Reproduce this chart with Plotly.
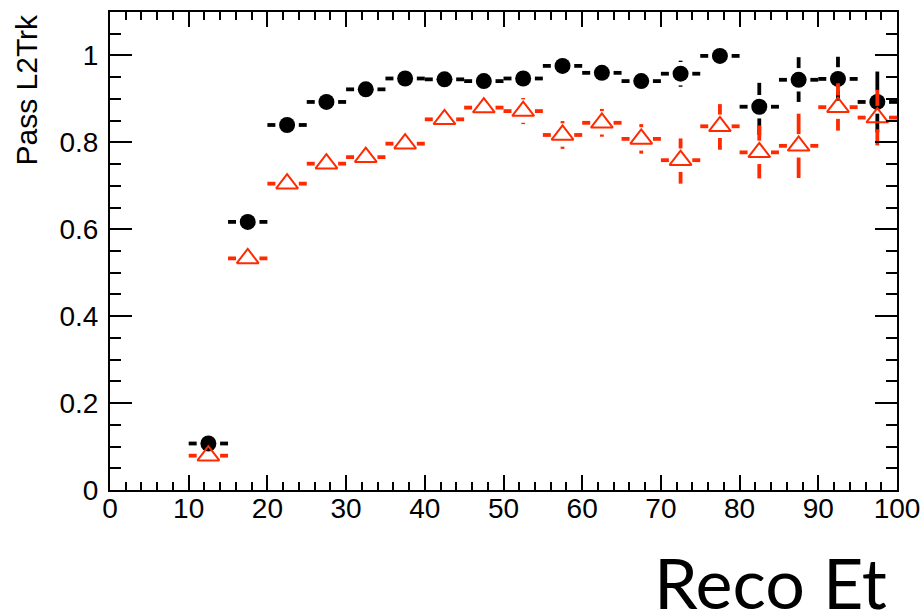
import plotly.graph_objects as go

# ---- data ----
et_centers = [12.5, 17.5, 22.5, 27.5, 32.5, 37.5, 42.5, 47.5, 52.5, 57.5,
              62.5, 67.5, 72.5, 77.5, 82.5, 87.5, 92.5, 97.5]
bin_half_width = 2.5

black_eff = [0.107, 0.617, 0.840, 0.893, 0.922, 0.947, 0.945, 0.941, 0.947, 0.976,
             0.960, 0.941, 0.958, 0.999, 0.882, 0.944, 0.946, 0.893]
black_err_up = [0.010, 0.010, 0.010, 0.010, 0.010, 0.010, 0.010, 0.010, 0.010, 0.010,
                0.015, 0.015, 0.030, 0.001, 0.055, 0.052, 0.051, 0.070]
black_err_dn = [0.010, 0.010, 0.010, 0.010, 0.010, 0.010, 0.010, 0.010, 0.010, 0.010,
                0.015, 0.015, 0.030, 0.020, 0.065, 0.051, 0.050, 0.070]

red_eff = [0.079, 0.533, 0.705, 0.751, 0.766, 0.797, 0.853, 0.880, 0.872, 0.817,
           0.845, 0.808, 0.759, 0.837, 0.777, 0.792, 0.881, 0.857]
red_err_up = [0.010, 0.012, 0.012, 0.012, 0.013, 0.015, 0.020, 0.022, 0.030, 0.032,
              0.032, 0.034, 0.050, 0.051, 0.062, 0.074, 0.055, 0.064]
red_err_dn = [0.010, 0.012, 0.012, 0.012, 0.013, 0.015, 0.020, 0.022, 0.030, 0.032,
              0.032, 0.034, 0.054, 0.054, 0.060, 0.074, 0.054, 0.064]

x_tick_vals = [0, 10, 20, 30, 40, 50, 60, 70, 80, 90, 100]
y_tick_vals = [0, 0.2, 0.4, 0.6, 0.8, 1.0]
y_tick_text = ["0", "0.2", "0.4", "0.6", "0.8", "1"]

# ---- geometry / style ----
X_RANGE = [0, 100]
Y_RANGE = [0, 1.1]
W, H = 920, 616
PLOT_LEFT, PLOT_RIGHT, PLOT_TOP, PLOT_BOTTOM = 110, 897, 12, 490   # window px
M_L, M_T = PLOT_LEFT, PLOT_TOP
M_R, M_B = W - PLOT_RIGHT, H - PLOT_BOTTOM
plot_w = W - M_L - M_R
plot_h = H - M_T - M_B
GAP_PX = 11.7
gap_x = GAP_PX * (X_RANGE[1] - X_RANGE[0]) / plot_w
gap_y = GAP_PX * (Y_RANGE[1] - Y_RANGE[0]) / plot_h

BLACK = "#000000"
RED = "#FF2A00"


def error_segments(xs, ys, eu, ed):
    hx, hy, vx, vy = [], [], [], []
    for x, y, u, d in zip(xs, ys, eu, ed):
        hx += [x - bin_half_width, x - gap_x, None, x + gap_x, x + bin_half_width, None]
        hy += [y, y, None, y, y, None]
        if u > gap_y:
            vx += [x, x, None]
            vy += [y + gap_y, y + u, None]
        if d > gap_y:
            vx += [x, x, None]
            vy += [y - gap_y, y - d, None]
    return hx, hy, vx, vy


fig = go.Figure()

for ys, eu, ed, color, symbol, msize, mline in [
    (black_eff, black_err_up, black_err_dn, BLACK, "circle", 16, 0),
    (red_eff, red_err_up, red_err_dn, RED, "triangle-up-open", 19, 2),
]:
    hx, hy, vx, vy = error_segments(et_centers, ys, eu, ed)
    fig.add_trace(go.Scatter(x=hx, y=hy, mode="lines",
                             line=dict(color=color, width=3.8),
                             hoverinfo="skip", showlegend=False))
    fig.add_trace(go.Scatter(x=vx, y=vy, mode="lines",
                             line=dict(color=color, width=3.8),
                             hoverinfo="skip", showlegend=False))
    fig.add_trace(go.Scatter(x=et_centers, y=ys, mode="markers",
                             marker=dict(symbol=symbol, size=msize, color=color,
                                         line=dict(color=color, width=mline)),
                             showlegend=False))

tick_font = dict(family="Liberation Sans, Arial, sans-serif", size=28, color="black")

fig.update_xaxes(
    range=X_RANGE, tickvals=x_tick_vals, ticks="inside", ticklen=15, tickwidth=1.5,
    tickcolor="black", showline=True, linewidth=2, linecolor="black", mirror="ticks",
    showgrid=False, zeroline=False, tickfont=tick_font, automargin=False,
    ticklabeloverflow="allow", ticklabelstandoff=-8,
    minor=dict(dtick=2, ticks="inside", ticklen=8, tickwidth=1.5, tickcolor="black",
               showgrid=False),
)
fig.update_yaxes(
    range=Y_RANGE, tickvals=y_tick_vals, ticktext=y_tick_text, ticks="inside",
    ticklen=22, tickwidth=1.5, tickcolor="black", showline=True, linewidth=2,
    linecolor="black", mirror="ticks", showgrid=False, zeroline=False,
    tickfont=tick_font, automargin=False, ticklabeloverflow="allow",
    ticklabelstandoff=4,
    minor=dict(dtick=0.05, ticks="inside", ticklen=11, tickwidth=1.5,
               tickcolor="black", showgrid=False),
)

fig.add_annotation(text="Pass L2Trk", xref="paper", yref="paper",
                   x=-(M_L - 44) / plot_w, y=1.0, xanchor="right", yanchor="top",
                   textangle=-90, showarrow=False,
                   font=dict(family="Liberation Sans, Arial, sans-serif", size=30,
                             color="black"))
fig.add_annotation(text="Reco Et", xref="paper", yref="paper",
                   x=(889 - M_L) / plot_w,
                   y=-(582 - M_T - plot_h) / plot_h,
                   xanchor="right", yanchor="middle", showarrow=False,
                   font=dict(family="Lato, Open Sans, sans-serif", size=70,
                             color="black"))

fig.update_layout(
    width=W, height=H, margin=dict(l=M_L, r=M_R, t=M_T, b=M_B, autoexpand=False),
    plot_bgcolor="white", paper_bgcolor="white",
)

fig.write_html(
    "out.html",
    config={"displayModeBar": False},
    post_script="document.body.style.margin='0';document.body.style.overflow='hidden';",
)
